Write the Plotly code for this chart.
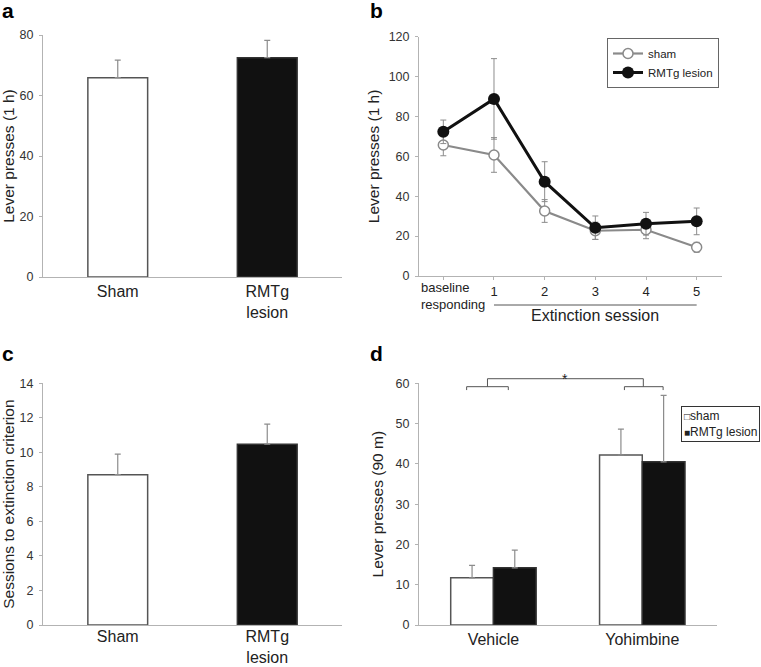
import plotly.graph_objects as go
from plotly.subplots import make_subplots

W, H = 761, 667

# panel a - lever presses in 1 h
groups = ["Sham", "RMTg<br>lesion"]
a_mean = [65.9, 72.5]
a_sem = [5.8, 5.7]

# panel b - extinction sessions
b_ticks = ["baseline<br>responding", "1", "2", "3", "4", "5"]
b_sham = [65.7, 60.7, 32.6, 22.7, 23.2, 14.4]
b_sham_sem = [5.4, 8.7, 5.7, 4.3, 4.5, 2.5]
b_rmtg = [72.3, 88.8, 47.3, 24.2, 26.2, 27.4]
b_rmtg_sem = [5.9, 20.2, 10.0, 5.9, 5.7, 6.7]

# panel c - sessions to criterion
c_mean = [8.71, 10.47]
c_sem = [1.19, 1.17]

# panel d - yohimbine reinstatement (90 min)
drugs = ["Vehicle", "Yohimbine"]
d_sham = [11.7, 42.2]
d_sham_sem = [3.1, 6.4]
d_rmtg = [14.2, 40.5]
d_rmtg_sem = [4.4, 16.5]

FONT = "Liberation Sans, Arial, sans-serif"
AXCOL = "#b3b3b3"
ERRCOL = "#8c8c8c"
TXT = "#222222"


def px_x(a, b):
    return [a / W, b / W]


def px_y(top, bottom):
    return [1 - bottom / H, 1 - top / H]


fig = make_subplots(rows=2, cols=2)

# a
fig.add_trace(go.Bar(x=groups, y=a_mean, width=0.4,
                     marker=dict(color=["white", "#111111"], line=dict(color=["#555555", "#333333"], width=1.5)),
                     error_y=dict(type="data", array=a_sem, arrayminus=[0, 0], symmetric=False,
                                  color=ERRCOL, thickness=1.2, width=3),
                     showlegend=False), row=1, col=1)

# b
xs = list(range(len(b_ticks)))
fig.add_trace(go.Scatter(x=xs, y=b_sham, name="sham", mode="lines+markers",
                         line=dict(color="#8a8a8a", width=2.2),
                         marker=dict(symbol="circle", size=10, color="white", line=dict(color="#8a8a8a", width=1.5)),
                         error_y=dict(type="data", array=b_sham_sem, color=ERRCOL, thickness=1, width=3),
                         legend="legend"), row=1, col=2)
fig.add_trace(go.Scatter(x=xs, y=b_rmtg, name="RMTg lesion", mode="lines+markers",
                         line=dict(color="#111111", width=3),
                         marker=dict(symbol="circle", size=12, color="#111111"),
                         error_y=dict(type="data", array=b_rmtg_sem, color=ERRCOL, thickness=1, width=3),
                         legend="legend"), row=1, col=2)

# c
fig.add_trace(go.Bar(x=groups, y=c_mean, width=0.4,
                     marker=dict(color=["white", "#111111"], line=dict(color=["#555555", "#333333"], width=1.5)),
                     error_y=dict(type="data", array=c_sem, arrayminus=[0, 0], symmetric=False,
                                  color=ERRCOL, thickness=1.2, width=3),
                     showlegend=False), row=2, col=1)

# d
fig.add_trace(go.Bar(x=drugs, y=d_sham, name="sham",
                     marker=dict(color="white", line=dict(color="#555555", width=1.5)),
                     error_y=dict(type="data", array=d_sham_sem, arrayminus=[0, 0], symmetric=False,
                                  color=ERRCOL, thickness=1.2, width=3),
                     showlegend=False), row=2, col=2)
fig.add_trace(go.Bar(x=drugs, y=d_rmtg, name="RMTg lesion",
                     marker=dict(color="#111111", line=dict(color="#333333", width=1.5)),
                     error_y=dict(type="data", array=d_rmtg_sem, arrayminus=[0, 0], symmetric=False,
                                  color=ERRCOL, thickness=1.2, width=3),
                     showlegend=False), row=2, col=2)

yax = dict(showline=True, linecolor=AXCOL, linewidth=1, ticks="outside", ticklen=3, tickcolor=AXCOL,
           showgrid=False, zeroline=False, tickfont=dict(size=12.5, color="#333333", family=FONT),
           ticklabelstandoff=3, automargin=False)
xax = dict(showline=True, linecolor=AXCOL, linewidth=1, showgrid=False, zeroline=False,
           tickfont=dict(size=16, color=TXT, family=FONT), automargin=False)

fig.update_layout(
    xaxis=dict(xax, domain=px_x(43, 342), ticks=""),
    yaxis=dict(yax, domain=px_y(35, 277), range=[0, 80], dtick=20,
               title=dict(text="Lever presses (1 h)", font=dict(size=15.5, color=TXT, family=FONT), standoff=7)),
    xaxis2=dict(xax, domain=px_x(419, 722), range=[-0.48, 5.5], tickvals=xs,
                ticktext=[""] + b_ticks[1:], ticks="outside", ticklen=3, tickcolor=AXCOL,
                tickfont=dict(size=13, color=TXT, family=FONT)),
    yaxis2=dict(yax, domain=px_y(36.7, 276), range=[0, 120], dtick=20,
                title=dict(text="Lever presses (1 h)", font=dict(size=15.5, color=TXT, family=FONT), standoff=5)),
    xaxis3=dict(xax, domain=px_x(43, 342), ticks="", ticklabelstandoff=-3),
    yaxis3=dict(yax, domain=px_y(383.3, 625), range=[0, 14], dtick=2,
                title=dict(text="Sessions to extinction criterion", font=dict(size=15.5, color=TXT, family=FONT), standoff=9)),
    xaxis4=dict(xax, domain=px_x(419, 716.7), ticks=""),
    yaxis4=dict(yax, domain=px_y(383.3, 625), range=[0, 60], dtick=10,
                title=dict(text="Lever presses (90 m)", font=dict(size=15.5, color=TXT, family=FONT), standoff=8)),
    barmode="group", bargap=0.426, bargroupgap=0,
    legend=dict(x=719 / W, xanchor="right", y=1 - 38 / H, yanchor="top", bgcolor="white",
                bordercolor="#666666", borderwidth=1, itemwidth=30, tracegroupgap=0,
                font=dict(size=11.5, color=TXT, family=FONT)),
    width=W, height=H, margin=dict(l=0, r=0, t=0, b=0, autoexpand=False),
    plot_bgcolor="white", paper_bgcolor="white",
    font=dict(family=FONT, color=TXT),
)

# panel letters
for letter, x, y in [("a", 0, 1 + 3 / H), ("b", 368 / W, 1 + 3 / H), ("c", 0, 1 - 340 / H), ("d", 368 / W, 1 - 340 / H)]:
    fig.add_annotation(text="<b>" + letter + "</b>", x=x, y=y, xref="paper", yref="paper",
                       xanchor="left", yanchor="top", showarrow=False,
                       font=dict(size=21, color="#000000", family=FONT))

# panel b: baseline label and extinction session underline
fig.add_annotation(text=b_ticks[0], x=-0.48, y=1 - 278 / H, xref="x2", yref="paper",
                   xanchor="left", yanchor="top", align="left", showarrow=False,
                   font=dict(size=13, color=TXT, family=FONT))
fig.add_shape(type="line", xref="x2", yref="paper", x0=1, x1=5, y0=1 - 305 / H, y1=1 - 305 / H,
              line=dict(color="#555555", width=1))
fig.add_annotation(text="Extinction session", x=3, y=1 - 316 / H, xref="x2", yref="paper",
                   xanchor="center", yanchor="middle", showarrow=False,
                   font=dict(size=16, color=TXT, family=FONT))

# panel d: significance bracket
brk = dict(color="#555555", width=1)
lines = [
    (-0.18, 0.10, 0.986, 0.986), (-0.18, -0.18, 0.972, 0.986), (0.10, 0.10, 0.972, 0.986),
    (-0.04, -0.04, 0.986, 1.019),
    (0.88, 1.14, 0.986, 0.986), (0.88, 0.88, 0.972, 0.986), (1.14, 1.14, 0.972, 0.986),
    (1.007, 1.007, 0.986, 1.019),
    (-0.04, 1.007, 1.019, 1.019),
]
for x0, x1, y0, y1 in lines:
    fig.add_shape(type="line", xref="x4", yref="y4 domain", x0=x0, x1=x1, y0=y0, y1=y1, line=brk)
fig.add_annotation(text="*", x=0.48, y=1.06, xref="x4", yref="y4 domain", showarrow=False,
                   font=dict(size=14, color=TXT, family=FONT))

# panel d legend
fig.add_annotation(text="<span style='font-size:10px'>□</span>sham<br><span style='font-size:10px'>■</span>RMTg lesion",
                   x=760 / W, y=1 - 406 / H, xref="paper", yref="paper",
                   xanchor="right", yanchor="top", align="left", showarrow=False,
                   bordercolor="#333333", borderwidth=1, borderpad=2, bgcolor="white",
                   font=dict(size=12, color=TXT, family=FONT))

fig.write_html("out.html", config={"displayModeBar": False},
               post_script="document.body.style.margin='0';document.body.style.overflow='hidden';"
                           "document.documentElement.style.overflow='hidden';")
